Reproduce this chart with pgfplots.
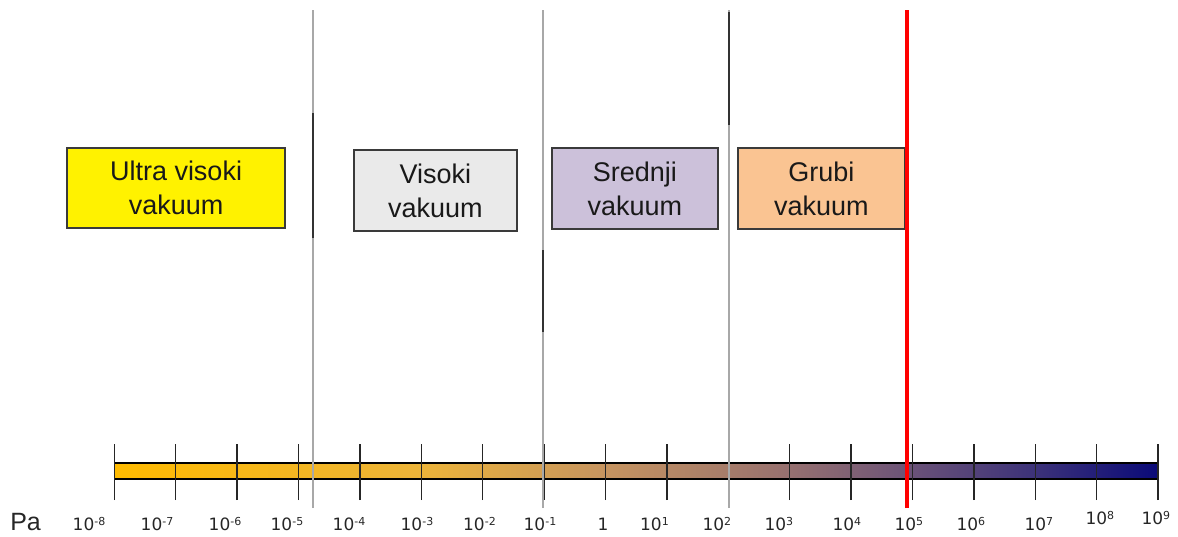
\documentclass[border=0pt]{standalone}
\usepackage{pgfplots}
\pgfplotsset{compat=1.18}
\usepackage{fontspec}
\setmainfont{Liberation Sans}
\newfontfamily\dejavu{DejaVu Sans}
\definecolor{c0}{RGB}{255,187,0}
\definecolor{c1}{RGB}{236,180,58}
\definecolor{c2}{RGB}{198,148,96}
\definecolor{c3}{RGB}{150,112,112}
\definecolor{c4}{RGB}{106,82,120}
\definecolor{c5}{RGB}{60,50,121}
\definecolor{c6}{RGB}{10,10,120}
\definecolor{boxedge}{RGB}{58,58,58}
\definecolor{vgray}{RGB}{168,168,168}
\definecolor{boxgray}{RGB}{234,234,234}
\definecolor{boxlav}{RGB}{204,193,218}
\definecolor{boxpeach}{RGB}{250,196,146}
\pgfdeclarehorizontalshading{vacbar}{100bp}{color(0bp)=(c0); color(25bp)=(c0); color(39.7bp)=(c1); color(48.5bp)=(c2); color(57.4bp)=(c3); color(63.2bp)=(c4); color(69.1bp)=(c5); color(75bp)=(c6); color(100bp)=(c6)}
\newcommand\tl[1]{10\raisebox{2.3pt}{\fontsize{5.5}{6}\selectfont #1}}
\begin{document}
\begin{tikzpicture}
\begin{axis}[
  scale only axis, width=589pt, height=254pt,
  xmin=-9.862, xmax=9.324, ymin=28, ymax=536,
  axis line style={draw=none}, xtick style={draw=none}, ytick=\empty,
  clip=false,
  xtick={-8.412,-7.305,-6.197,-5.188,-4.178,-3.071,-2.053,-1.068,-0.042,0.797,1.814,2.824,3.931,4.941,5.951,7.058,8.051,8.963},
  xticklabels={\tl{-8},\tl{-7},\tl{-6},\tl{-5},\tl{-4},\tl{-3},\tl{-2},\tl{-1},1,\tl{1},\tl{2},\tl{3},\tl{4},\tl{5},\tl{6},\tl{7},\raisebox{3pt}{\tl{8}},\raisebox{3pt}{\tl{9}}},
  xticklabel style={font=\dejavu\fontsize{8.5}{10}\selectfont, anchor=base, yshift=-11pt, inner sep=1pt, text=black!85},
]
\path (axis cs:-9.862,0) rectangle (axis cs:9.324,536);
% boxes
\addplot[fill=yellow, draw=boxedge, line width=0.75pt] coordinates {(-8.770,308)(-5.220,308)(-5.220,388)(-8.770,388)} -- cycle;
\addplot[fill=boxgray, draw=boxedge, line width=0.75pt] coordinates {(-4.097,305)(-1.442,305)(-1.442,386)(-4.097,386)} -- cycle;
\addplot[fill=boxlav, draw=boxedge, line width=0.75pt] coordinates {(-0.872,307)(1.831,307)(1.831,388)(-0.872,388)} -- cycle;
\addplot[fill=boxpeach, draw=boxedge, line width=0.75pt] coordinates {(2.156,307)(4.876,307)(4.876,388)(2.156,388)} -- cycle;
% bar
\addplot[shading=vacbar, draw=black, line width=0.6pt] coordinates {(-8,57)(9,57)(9,73)(-8,73)} -- cycle;
% ticks
\addplot[black!85, line width=0.7pt, unbounded coords=jump] coordinates {
(-8,36)(-8,92)(-8,nan)(-7,36)(-7,92)(-7,nan)(-6,36)(-6,92)(-6,nan)(-5,36)(-5,92)(-5,nan)
(-4,36)(-4,92)(-4,nan)(-3,36)(-3,92)(-3,nan)(-2,36)(-2,92)(-2,nan)(-1,36)(-1,92)(-1,nan)
(0,36)(0,92)(0,nan)(1,36)(1,92)(1,nan)(2,36)(2,92)(2,nan)(3,36)(3,92)(3,nan)
(4,36)(4,92)(4,nan)(5,36)(5,92)(5,nan)(6,36)(6,92)(6,nan)(7,36)(7,92)(7,nan)
(8,36)(8,92)(8,nan)(9,36)(9,92)};
% vertical boundary lines
\addplot[vgray, line width=1pt, unbounded coords=jump] coordinates {
(-4.764,28)(-4.764,526)(-4.764,nan)(-1.019,28)(-1.019,526)(-1.019,nan)(2.010,28)(2.010,526)};
\addplot[black!80, line width=0.6pt, unbounded coords=jump] coordinates {
(-4.764,298)(-4.764,423)(-4.764,nan)(-1.019,204)(-1.019,286)(-1.019,nan)(2.010,411)(2.010,524)};
\addplot[red, line width=2pt] coordinates {(4.903,28)(4.903,526)};
% texts
\node[align=center, font=\fontsize{13.5}{17}\selectfont, text=black!90] at (axis cs:-6.995,348) {Ultra visoki\\vakuum};
\node[align=center, font=\fontsize{13.5}{17}\selectfont, text=black!90] at (axis cs:-2.770,345.5) {Visoki\\vakuum};
\node[align=center, font=\fontsize{13.5}{17}\selectfont, text=black!90] at (axis cs:0.479,347.5) {Srednji\\vakuum};
\node[align=center, font=\fontsize{13.5}{17}\selectfont, text=black!90] at (axis cs:3.516,347.5) {Grubi\\vakuum};
\node[anchor=base, font=\fontsize{12.5}{14}\selectfont, text=black!85, inner sep=1pt] at (axis cs:-9.446,5.3) {Pa};
\end{axis}
\end{tikzpicture}
\end{document}
